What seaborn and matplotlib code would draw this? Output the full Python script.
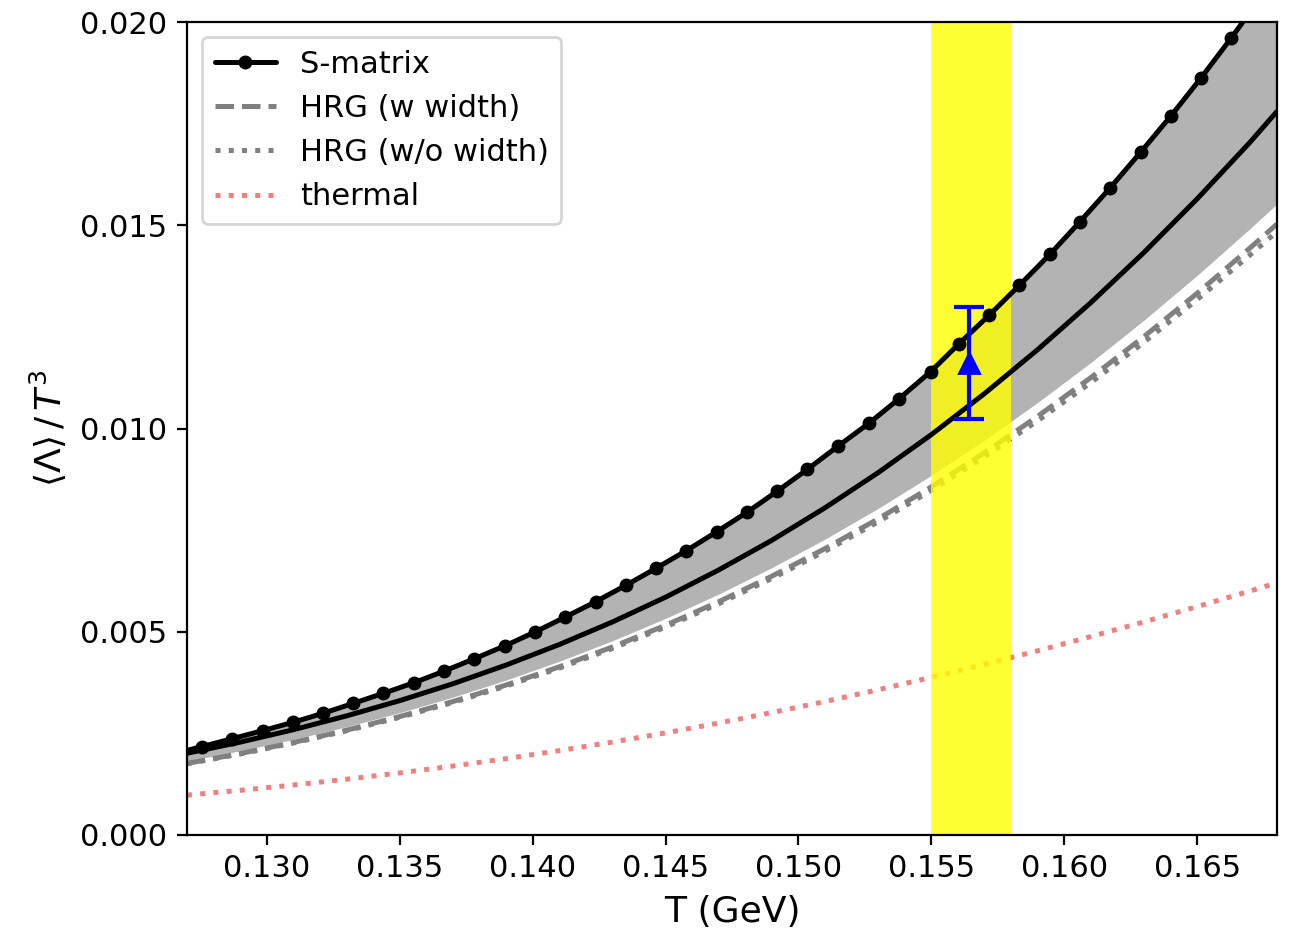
import numpy as np
import matplotlib
matplotlib.use("Agg")
import matplotlib.pyplot as plt
import seaborn as sns

sns.set_style("ticks", rc={'axes.edgecolor': 'black', 'text.color': 'black',
                           'axes.labelcolor': 'black', 'xtick.color': 'black',
                           'ytick.color': 'black'})
plt.rcParams['font.family'] = 'DejaVu Sans'
plt.rcParams['mathtext.fontset'] = 'dejavusans'

# ---- data ----
# S-matrix curve (the one drawn with dots), one value per marker
T_smatrix = [0.12641, 0.12755, 0.12870, 0.12984, 0.13099, 0.13211, 0.13326, 0.13439,
             0.13554, 0.13668, 0.13781, 0.13897, 0.14009, 0.14123, 0.14237, 0.14353,
             0.14464, 0.14578, 0.14693, 0.14808, 0.14921, 0.15034, 0.15148, 0.15265,
             0.15378, 0.15497, 0.15603, 0.15718, 0.15831, 0.15946, 0.16058, 0.16172,
             0.16287, 0.16401, 0.16515, 0.16627, 0.16741]
smatrix = [0.001985, 0.002172, 0.002369, 0.002566, 0.002772, 0.002993, 0.003240, 0.003486,
           0.003747, 0.004034, 0.004337, 0.004657, 0.004994, 0.005363, 0.005739, 0.006150,
           0.006561, 0.006994, 0.007461, 0.007946, 0.008462, 0.008996, 0.009562, 0.010128,
           0.010730, 0.011397, 0.012079, 0.012792, 0.013523, 0.014285, 0.015080, 0.015916,
           0.016795, 0.017688, 0.018630, 0.019599, 0.020620]

# common temperature grid for the other curves
T_grid = [0.127, 0.129, 0.131, 0.133, 0.135, 0.137, 0.139, 0.141, 0.143, 0.145, 0.147,
          0.149, 0.151, 0.153, 0.155, 0.157, 0.159, 0.161, 0.163, 0.165, 0.167, 0.168]

# solid black curve (no legend entry)
smatrix_solid = [0.002010, 0.002285, 0.002590, 0.002930, 0.003305, 0.003720, 0.004180,
                 0.004685, 0.005240, 0.005850, 0.006520, 0.007250, 0.008050, 0.008915,
                 0.009850, 0.010860, 0.011942, 0.013098, 0.014333, 0.015651, 0.017052,
                 0.017800]

# grey band: upper edge follows the dotted S-matrix curve
band_high = [0.002090, 0.002419, 0.002791, 0.003182, 0.003622, 0.004118, 0.004666,
             0.005286, 0.005959, 0.006695, 0.007490, 0.008363, 0.009319, 0.010311,
             0.011416, 0.012677, 0.013975, 0.015382, 0.016894, 0.018503, 0.020254,
             0.021187]
band_low = [0.001818, 0.002070, 0.002351, 0.002663, 0.003009, 0.003390, 0.003811,
            0.004272, 0.004778, 0.005328, 0.005927, 0.006577, 0.007279, 0.008035,
            0.008847, 0.009714, 0.010641, 0.011624, 0.012667, 0.013768, 0.014926,
            0.015525]

hrg_width = [0.001760, 0.002004, 0.002276, 0.002578, 0.002913, 0.003282, 0.003689,
             0.004136, 0.004625, 0.005158, 0.005738, 0.006367, 0.007046, 0.007778,
             0.008564, 0.009404, 0.010301, 0.011253, 0.012262, 0.013328, 0.014449,
             0.015029]
hrg_nowidth = [0.001751, 0.001993, 0.002263, 0.002563, 0.002894, 0.003260, 0.003663,
               0.004105, 0.004589, 0.005116, 0.005689, 0.006311, 0.006981, 0.007704,
               0.008479, 0.009308, 0.010192, 0.011130, 0.012123, 0.013173, 0.014276,
               0.014844]
thermal = [0.000980, 0.001099, 0.001230, 0.001372, 0.001527, 0.001696, 0.001878,
           0.002075, 0.002286, 0.002512, 0.002754, 0.003011, 0.003284, 0.003573,
           0.003878, 0.004197, 0.004532, 0.004881, 0.005243, 0.005618, 0.006005,
           0.006202]

# measured point and freeze-out band
T_exp = [0.15643]
lam_exp = [0.01161]
lam_err = [0.00137]
T_band = [0.155, 0.158]

# ---- plot ----
fig, ax = plt.subplots(figsize=(6.48, 4.67), dpi=200)
fig.subplots_adjust(left=0.1443, right=0.9853, top=0.9764, bottom=0.106)

ax.fill_between(T_grid, band_low, band_high, color='#b3b3b3', lw=0, zorder=1)

sns.lineplot(x=T_grid, y=hrg_width, ax=ax, color='grey', linestyle='--', lw=1.8,
             label='HRG (w width)', zorder=2)
sns.lineplot(x=T_grid, y=hrg_nowidth, ax=ax, color='grey', linestyle=':', lw=1.8,
             label='HRG (w/o width)', zorder=2)
sns.lineplot(x=T_grid, y=thermal, ax=ax, color='lightcoral', linestyle=':', lw=1.8,
             label='thermal', zorder=2)

ax.axvspan(T_band[0], T_band[1], color='yellow', alpha=0.8, lw=0, zorder=2.5)

sns.lineplot(x=T_smatrix, y=smatrix, ax=ax, color='black', lw=1.8, marker='o',
             markersize=4.5, markeredgecolor='black', markeredgewidth=0.5,
             label='S-matrix', zorder=3)
sns.lineplot(x=T_grid, y=smatrix_solid, ax=ax, color='black', lw=1.8, zorder=3)

ax.errorbar(T_exp, lam_exp, yerr=lam_err, fmt='^', color='blue', markersize=7,
            lw=1.5, capsize=5.5, capthick=1.5, zorder=4)

ax.set_xlim(0.127, 0.168)
ax.set_ylim(0.0, 0.020)
ax.set_xticks([0.130, 0.135, 0.140, 0.145, 0.150, 0.155, 0.160, 0.165])
ax.set_xticklabels(['0.130', '0.135', '0.140', '0.145', '0.150', '0.155', '0.160', '0.165'])
ax.set_yticks([0.000, 0.005, 0.010, 0.015, 0.020])
ax.set_yticklabels(['0.000', '0.005', '0.010', '0.015', '0.020'])
ax.tick_params(labelsize=11)
ax.set_xlabel('T (GeV)', fontsize=13)
ax.set_ylabel(r'$\langle\Lambda\rangle\,/\,T^3$', fontsize=13)

handles, labels = ax.get_legend_handles_labels()
order = [labels.index(l) for l in ['S-matrix', 'HRG (w width)', 'HRG (w/o width)', 'thermal']]
ax.legend([handles[i] for i in order], [labels[i] for i in order],
          loc='upper left', fontsize=11)

plt.savefig('out.png', dpi=200)
